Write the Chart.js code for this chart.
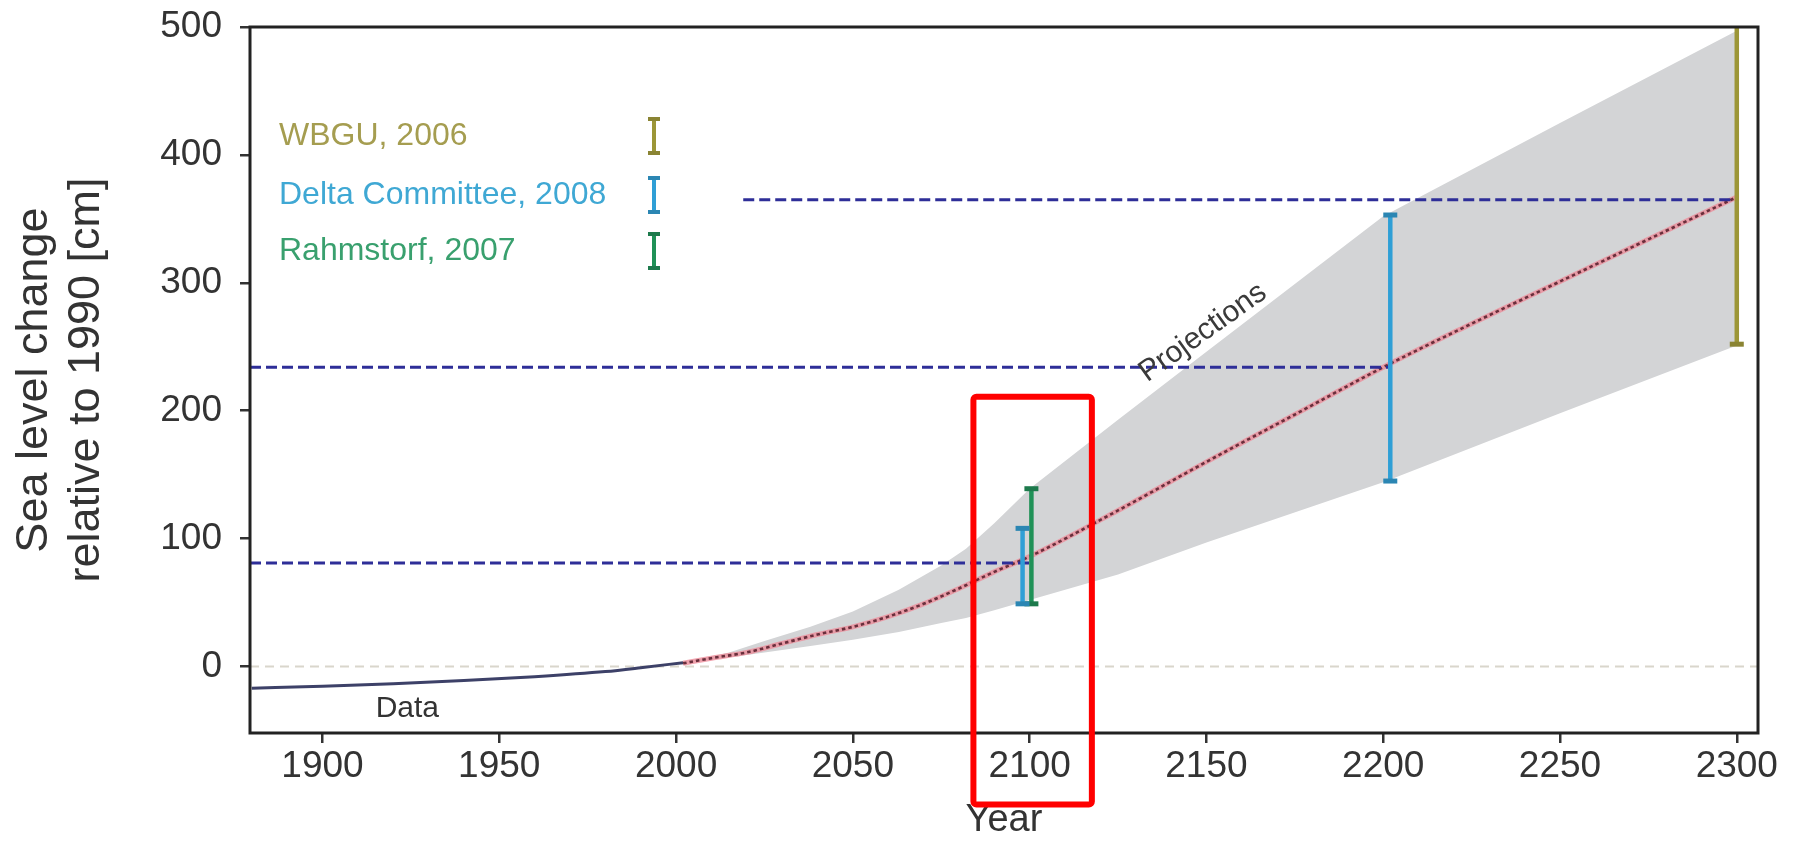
<!DOCTYPE html>
<html>
<head>
<meta charset="utf-8">
<title>Sea level change relative to 1990</title>
<script src="https://cdn.jsdelivr.net/npm/chart.js@4.4.1/dist/chart.umd.min.js"></script>
<style>
  html, body { margin: 0; padding: 0; background: #ffffff; }
  canvas { display: block; }
</style>
</head>
<body>
<canvas id="slr" width="1797" height="850"></canvas>
<script>
// Observed sea level (cm, relative to 1990)
const obsYears = [1880, 1900, 1920, 1940, 1960, 1980, 1990, 2002];
const obsLevel = [-17, -15.5, -13.5, -11, -8, -4, -1, 3];

// Central projection
const projYears = [2002, 2010, 2020, 2030, 2040, 2050, 2060, 2070, 2080, 2090, 2100, 2125, 2150, 2175, 2200, 2225, 2250, 2275, 2300];
const projMid   = [2.5, 6.5, 11, 18, 25, 31, 39, 49, 61, 74, 86, 122, 160, 197, 234, 268, 301, 334, 367];

// Projection range (grey envelope)
const bandYears = [2002, 2015, 2025, 2038, 2050, 2063, 2075, 2082, 2090, 2100, 2125, 2150, 2200, 2250, 2300];
const bandUpper = [3, 11, 20, 31, 43, 60, 79, 92, 112, 139, 193, 246, 352, 425, 497];
const bandLower = [3, 7, 11, 16, 21, 27, 34, 38, 44, 52, 72, 97, 144, 198, 251];

// Published ranges
const rangeSource = ['Delta Committee, 2008', 'Rahmstorf, 2007', 'Delta Committee, 2008', 'WBGU, 2006'];
const rangeYear   = [2098, 2100.5, 2202, 2300];
const rangeLow    = [49, 49, 145, 252];
const rangeHigh   = [108, 139, 353, 502];

// Horizontal reference levels
const refLevel = [81, 234, 365];
const refFrom  = [1879.5, 1879.5, 2019];
const refTo    = [2100, 2202, 2299];

// Axes
const xMin = 1879.5, xMax = 2306;
const yMin = -52, yMax = 500;
const xTicks = [1900, 1950, 2000, 2050, 2100, 2150, 2200, 2250, 2300];
const yTicks = [0, 100, 200, 300, 400, 500];

const legendNames = ['WBGU, 2006', 'Delta Committee, 2008', 'Rahmstorf, 2007'];

const FONT = '"Liberation Sans", Arial, Helvetica, sans-serif';
Chart.defaults.font.family = FONT;
Chart.defaults.color = '#333333';

const barColor  = { 'WBGU, 2006': '#9c9637', 'Delta Committee, 2008': '#2f9fd6', 'Rahmstorf, 2007': '#1f9157' };
const capColor  = { 'WBGU, 2006': '#8a8433', 'Delta Committee, 2008': '#2b86b3', 'Rahmstorf, 2007': '#1d7a4c' };
const textColor = { 'WBGU, 2006': '#a59d50', 'Delta Committee, 2008': '#3fa8d4', 'Rahmstorf, 2007': '#39a06e' };

const pts = (xs, ys) => xs.map((x, i) => ({ x, y: ys[i] }));

const datasets = [];

// grey envelope: lower edge, then upper edge filled down to it
datasets.push({
  data: pts(bandYears, bandLower),
  borderWidth: 0, borderColor: 'rgba(0,0,0,0)', fill: false, order: 20
});
datasets.push({
  data: pts(bandYears, bandUpper),
  borderWidth: 0, borderColor: 'rgba(0,0,0,0)', backgroundColor: '#d3d4d6',
  fill: '-1', order: 19
});

// zero line
datasets.push({
  data: [{ x: xMin, y: 0 }, { x: xMax, y: 0 }],
  borderColor: '#d9d6cc', borderWidth: 2, borderDash: [9, 6], order: 18
});

// observations
datasets.push({
  data: pts(obsYears, obsLevel),
  borderColor: '#3d4168', borderWidth: 3, order: 17, cubicInterpolationMode: 'monotone'
});

// central projection: soft red line with dark dots on top
datasets.push({
  data: pts(projYears, projMid),
  borderColor: 'rgba(236,140,154,0.8)', borderWidth: 5, order: 16, cubicInterpolationMode: 'monotone'
});
datasets.push({
  data: pts(projYears, projMid),
  borderColor: '#6a2f3c', borderWidth: 2.6, borderDash: [3.5, 3], order: 15, cubicInterpolationMode: 'monotone'
});

// reference levels
refLevel.forEach((v, i) => {
  datasets.push({
    data: [{ x: refFrom[i], y: v }, { x: refTo[i], y: v }],
    borderColor: '#2e2e98', borderWidth: 3, borderDash: [11, 5], order: 10
  });
});

// published ranges as capped vertical bars
rangeYear.forEach((yr, i) => {
  const src = rangeSource[i];
  datasets.push({
    data: [{ x: yr, y: rangeLow[i] }, { x: yr, y: rangeHigh[i] }],
    borderColor: barColor[src], borderWidth: 4.5,
    pointStyle: 'line', pointRadius: 7, pointBorderWidth: 5,
    pointBorderColor: capColor[src], pointBackgroundColor: capColor[src],
    order: 5
  });
});

function drawIBar(ctx, cx, y1, y2, color, cap) {
  ctx.strokeStyle = color;
  ctx.lineWidth = 4;
  ctx.beginPath(); ctx.moveTo(cx, y1); ctx.lineTo(cx, y2); ctx.stroke();
  ctx.strokeStyle = cap;
  ctx.lineWidth = 4;
  ctx.beginPath();
  ctx.moveTo(cx - 6, y1); ctx.lineTo(cx + 6, y1);
  ctx.moveTo(cx - 6, y2); ctx.lineTo(cx + 6, y2);
  ctx.stroke();
}

const decorations = {
  id: 'decorations',
  afterDatasetsDraw(chart) {
    const { ctx, chartArea: a, scales: { x, y } } = chart;
    ctx.save();

    // plot frame
    ctx.strokeStyle = '#222222';
    ctx.lineWidth = 3;
    ctx.strokeRect(a.left, a.top, a.right - a.left, a.bottom - a.top);

    // in-plot labels
    ctx.fillStyle = '#333333';
    ctx.textAlign = 'center';
    ctx.textBaseline = 'middle';
    ctx.font = '30px ' + FONT;
    ctx.fillText('Data', x.getPixelForValue(1924), y.getPixelForValue(-33));

    ctx.save();
    ctx.translate(x.getPixelForValue(2149), y.getPixelForValue(261));
    ctx.rotate(-35.5 * Math.PI / 180);
    ctx.font = '30px ' + FONT;
    ctx.fillStyle = '#3a3a3a';
    ctx.fillText('Projections', 0, 0);
    ctx.restore();

    // key
    const rowY = [109, 168, 224];
    ctx.textAlign = 'left';
    ctx.font = '32px ' + FONT;
    legendNames.forEach((name, i) => {
      const cy = a.top + rowY[i];
      ctx.fillStyle = textColor[name];
      ctx.fillText(name, a.left + 29, cy);
      drawIBar(ctx, a.left + 404, cy - 17, cy + 17, barColor[name], capColor[name]);
    });

    ctx.restore();
  },
  afterDraw(chart) {
    const { ctx, scales: { x, y } } = chart;
    // highlight around the year 2100
    const l = x.getPixelForValue(2084.1), r = x.getPixelForValue(2117.6);
    const t = y.getPixelForValue(211), b = y.getPixelForValue(-108);
    ctx.save();
    ctx.strokeStyle = '#ff0000';
    ctx.lineWidth = 6;
    ctx.lineJoin = 'round';
    ctx.beginPath();
    if (ctx.roundRect) ctx.roundRect(l, t, r - l, b - t, 3); else ctx.rect(l, t, r - l, b - t);
    ctx.stroke();
    ctx.restore();
  }
};

new Chart(document.getElementById('slr'), {
  type: 'line',
  data: { datasets },
  options: {
    responsive: false,
    animation: false,
    devicePixelRatio: 1,
    layout: { padding: { left: 0, top: 27, right: 39, bottom: 0 } },
    plugins: { legend: { display: false }, tooltip: { enabled: false } },
    elements: { point: { radius: 0, hoverRadius: 0 }, line: { tension: 0 } },
    scales: {
      x: {
        type: 'linear', min: xMin, max: xMax,
        afterBuildTicks: s => { s.ticks = xTicks.map(v => ({ value: v })); },
        afterFit: s => { s.height = 117; s.paddingLeft = 0; s.paddingRight = 0; },
        grid: { drawOnChartArea: false, drawTicks: true, tickLength: 10, color: '#333333', lineWidth: 2.5 },
        border: { display: false },
        ticks: { font: { size: 37 }, color: '#333333', padding: 2, maxRotation: 0, autoSkip: false, callback: v => String(v) },
        title: { display: true, text: 'Year', font: { size: 38 }, color: '#333333', padding: { top: 0, bottom: 7 } }
      },
      y: {
        type: 'linear', min: yMin, max: yMax,
        afterBuildTicks: s => { s.ticks = yTicks.map(v => ({ value: v })); },
        afterFit: s => { s.width = 250; s.paddingTop = 0; s.paddingBottom = 0; },
        grid: { drawOnChartArea: false, drawTicks: true, tickLength: 10, color: '#333333', lineWidth: 2.5 },
        border: { display: false },
        ticks: { font: { size: 37 }, color: '#333333', padding: 18, callback: v => String(v) },
        title: {
          display: true, text: ['Sea level change', 'relative to 1990 [cm]'],
          font: { size: 45, lineHeight: 1.16 }, color: '#333333', padding: { top: 8, bottom: 0 }
        }
      }
    }
  },
  plugins: [decorations]
});
</script>
</body>
</html>
